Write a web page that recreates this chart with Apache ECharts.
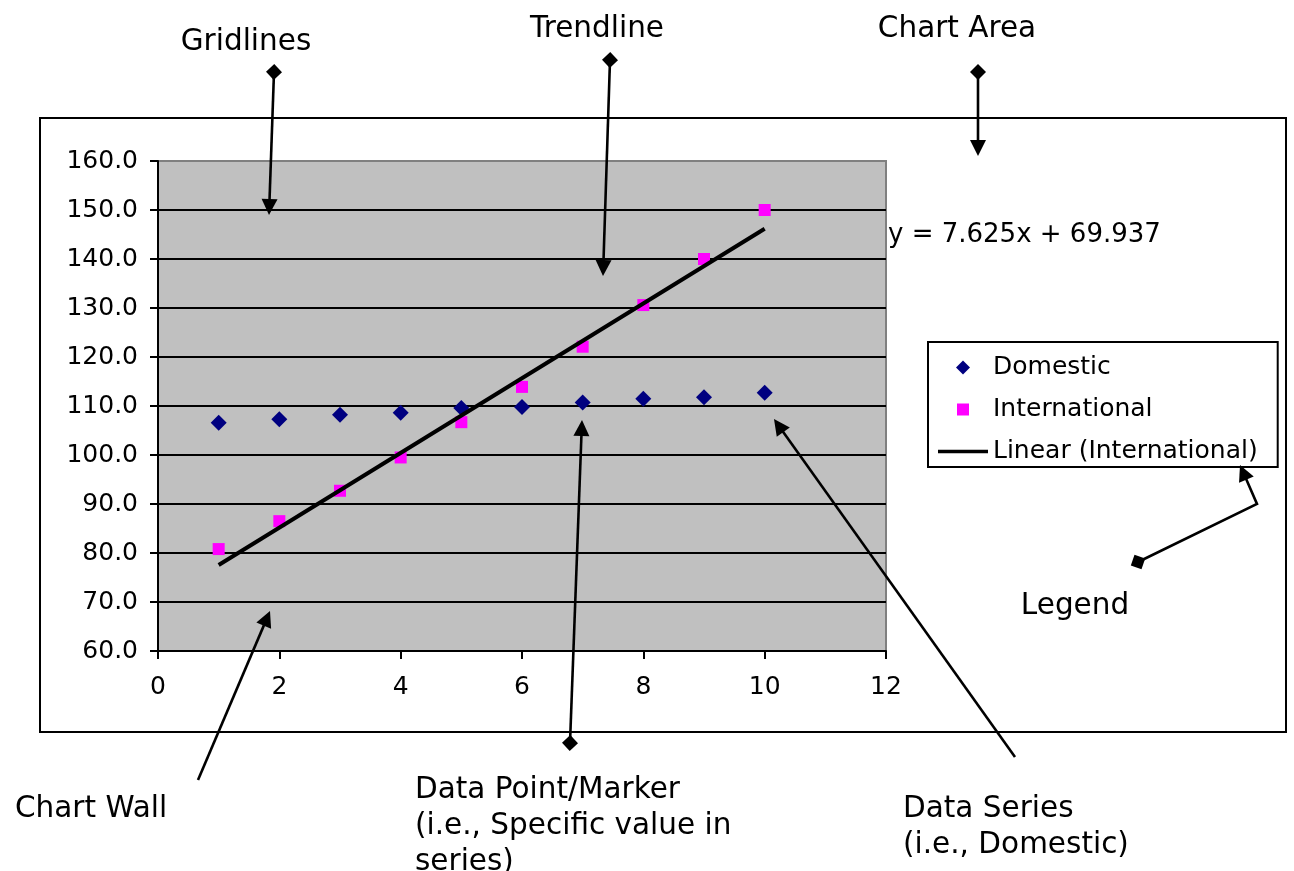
<!DOCTYPE html>
<html>
<head>
<meta charset="utf-8">
<title>Chart elements</title>
<script src="https://cdn.jsdelivr.net/npm/echarts@6/dist/echarts.min.js"></script>
<style>
  html, body { margin: 0; padding: 0; background: #fff; }
  #chart { width: 1294px; height: 871px; }
</style>
</head>
<body>
<div id="chart"></div>
<script>
// Series values
const xValues = [1, 2, 3, 4, 5, 6, 7, 8, 9, 10];
const domestic = [106.6, 107.3, 108.2, 108.6, 109.6, 109.8, 110.7, 111.5, 111.8, 112.7];
const international = [80.8, 86.5, 92.7, 99.5, 106.7, 113.9, 122.1, 130.6, 140.0, 150.0];

// Linear trendline fitted to the International series
const trendSlope = 7.625;
const trendIntercept = 69.937;

// Axis ranges
const xRange = { min: 0, max: 12, interval: 2 };
const yRange = { min: 60, max: 160, interval: 10 };

const FONT = '"DejaVu Sans", Verdana, sans-serif';

const pairs = (xs, ys) => xs.map((x, i) => [x, ys[i]]);
const trendEnds = [xValues[0], xValues[xValues.length - 1]].map(x => [x, trendSlope * x + trendIntercept]);
const equationText = 'y = ' + trendSlope + 'x + ' + trendIntercept;

// ---- callout arrows drawn around the chart ----
const graphics = [];

function callout(points, withTail) {
  const n = points.length;
  const [ex, ey] = points[n - 1];
  const [px, py] = points[n - 2];
  const len = Math.hypot(ex - px, ey - py);
  const ux = (ex - px) / len, uy = (ey - py) / len;
  const head = 16, half = 8;
  const bx = ex - ux * head, by = ey - uy * head;
  const linePts = points.slice(0, n - 1).concat([[bx + ux * 2, by + uy * 2]]);
  graphics.push({
    type: 'polyline', silent: true, z: 100,
    shape: { points: linePts },
    style: { stroke: '#000', lineWidth: 2.6, fill: null }
  });
  graphics.push({
    type: 'polygon', silent: true, z: 100,
    shape: { points: [[ex, ey], [bx - uy * half, by + ux * half], [bx + uy * half, by - ux * half]] },
    style: { fill: '#000' }
  });
  if (withTail) {
    const [sx, sy] = points[0];
    const [nx, ny] = points[1];
    const l2 = Math.hypot(nx - sx, ny - sy);
    const vx = (nx - sx) / l2, vy = (ny - sy) / l2;
    const r = 8;
    graphics.push({
      type: 'polygon', silent: true, z: 101,
      shape: { points: [[sx + vx * r, sy + vy * r], [sx - vy * r, sy + vx * r], [sx - vx * r, sy - vy * r], [sx + vy * r, sy - vx * r]] },
      style: { fill: '#000' }
    });
  }
}

function note(text, x, y, align, size) {
  graphics.push({
    type: 'text', silent: true, z: 100,
    x: x, y: y,
    style: {
      text: text,
      font: (size || 29.5) + 'px ' + FONT,
      fill: '#000',
      textAlign: align, align: align,
      textVerticalAlign: 'middle', verticalAlign: 'middle',
      lineHeight: 36
    }
  });
}

// chart area frame
graphics.push({
  type: 'rect', silent: true, z: 0,
  shape: { x: 40, y: 118, width: 1246, height: 614 },
  style: { fill: null, stroke: '#000', lineWidth: 2 }
});

note('Gridlines', 246, 42, 'center');
callout([[274, 72], [269, 215]], true);

note('Trendline', 597, 29, 'center');
callout([[610, 60], [603, 276]], true);

note('Chart Area', 957, 29, 'center');
callout([[978, 72], [978, 156]], true);

note('Legend', 1075, 606, 'center');
callout([[1138, 562], [1257, 504], [1240, 465]], true);

note('Chart Wall', 15, 809, 'left');
callout([[198, 780], [270, 611]], false);

note('Data Point/Marker\n(i.e., Specific value in\nseries)', 415, 826, 'left');
callout([[570, 743], [582, 420]], true);

note('Data Series\n(i.e., Domestic)', 903, 827, 'left');
callout([[1015, 757], [774, 419]], false);

// trendline equation label
note(equationText, 888, 235, 'left', 26);

const chart = echarts.init(document.getElementById('chart'));
chart.setOption({
  animation: false,
  backgroundColor: '#fff',
  textStyle: { fontFamily: FONT },
  grid: {
    left: 158, right: 408, top: 161, bottom: 220,
    show: true,
    backgroundColor: '#C0C0C0',
    borderColor: '#808080',
    borderWidth: 2
  },
  legend: {
    orient: 'vertical',
    left: 928, top: 342,
    padding: [13, 20, 3, 10],
    itemGap: 17,
    itemWidth: 50,
    itemHeight: 18,
    symbolKeepAspect: true,
    backgroundColor: '#fff',
    borderColor: '#000',
    borderWidth: 2,
    borderRadius: 0,
    textStyle: { fontSize: 25, color: '#000', fontFamily: FONT },
    data: [
      { name: 'Domestic', icon: 'path://M-1,-1M17,17M8,1L15,8L8,15L1,8Z' },
      { name: 'International', icon: 'path://M-3,-3M15,15M0,0H12V12H0Z' },
      { name: 'Linear (International)', icon: 'path://M0,0H50V3.5H0Z' }
    ]
  },
  xAxis: {
    type: 'value',
    min: xRange.min, max: xRange.max, interval: xRange.interval,
    axisLine: { show: true, onZero: false, lineStyle: { color: '#000', width: 2 } },
    axisTick: { show: true, length: 8, lineStyle: { color: '#000', width: 2 } },
    axisLabel: { margin: 24, fontSize: 25, color: '#000', fontFamily: FONT },
    splitLine: { show: false }
  },
  yAxis: {
    type: 'value',
    min: yRange.min, max: yRange.max, interval: yRange.interval,
    axisLine: { show: true, lineStyle: { color: '#000', width: 2 } },
    axisTick: { show: true, length: 8, lineStyle: { color: '#000', width: 2 } },
    axisLabel: { margin: 20, fontSize: 25, color: '#000', fontFamily: FONT, formatter: v => v.toFixed(1) },
    splitLine: {
      show: true,
      lineStyle: {
        color: ['#000', '#000', '#000', '#000', '#000', '#000', '#000', '#000', '#000', '#000', '#808080'],
        width: 2.2
      }
    }
  },
  series: [
    {
      name: 'Domestic',
      type: 'scatter',
      symbol: 'diamond',
      symbolSize: 16,
      itemStyle: { color: '#000080', opacity: 1 },
      data: pairs(xValues, domestic),
      z: 3
    },
    {
      name: 'International',
      type: 'scatter',
      symbol: 'rect',
      symbolSize: 12,
      itemStyle: { color: '#FF00FF', opacity: 1 },
      data: pairs(xValues, international),
      z: 3
    },
    {
      name: 'Linear (International)',
      type: 'line',
      symbol: 'none',
      showSymbol: false,
      lineStyle: { color: '#000', width: 4 },
      itemStyle: { color: '#000' },
      data: trendEnds,
      z: 4
    }
  ],
  graphic: graphics
});
</script>
</body>
</html>
